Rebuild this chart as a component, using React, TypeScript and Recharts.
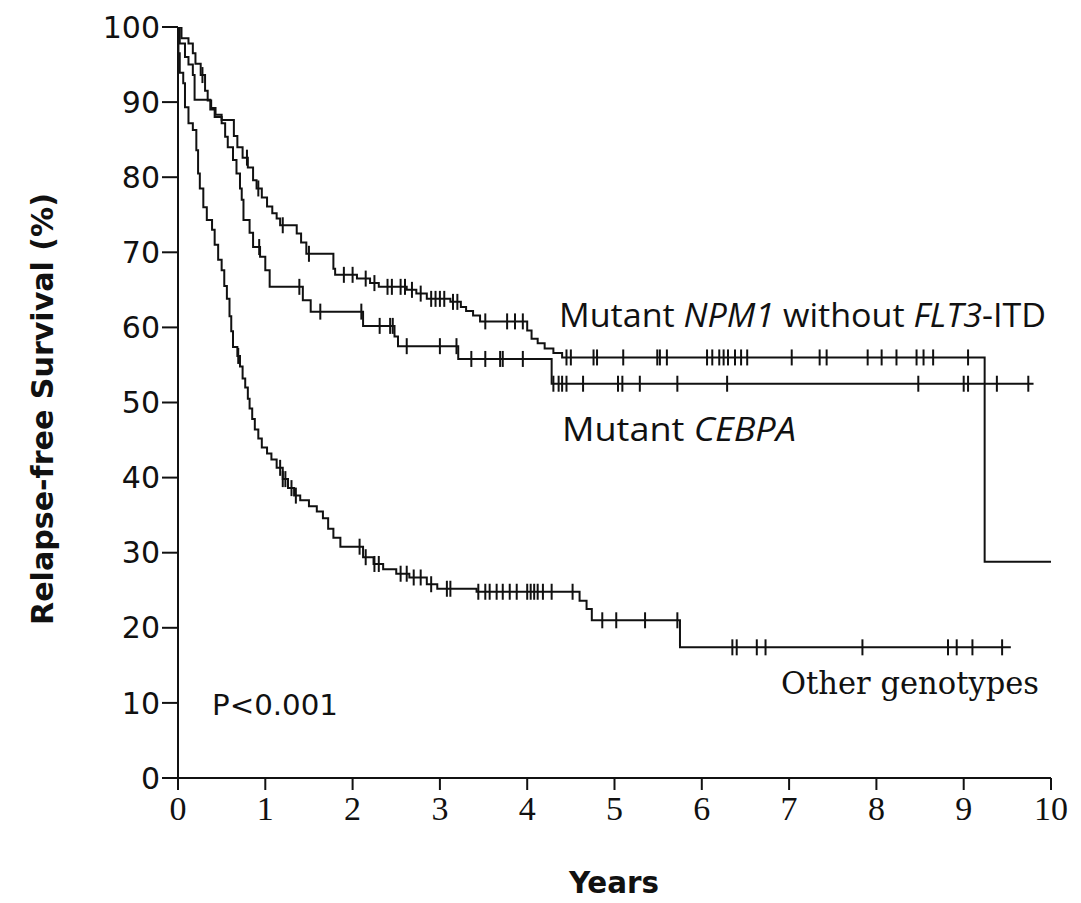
import React from 'react';
import { ComposedChart, Line, Scatter, XAxis, YAxis, Label, Customized } from 'recharts';

// axis ticks
const yearTicks = [0, 1, 2, 3, 4, 5, 6, 7, 8, 9, 10];
const pctTicks = [0, 10, 20, 30, 40, 50, 60, 70, 80, 90, 100];

// Mutant NPM1 without FLT3-ITD: step times (years) and survival (%)
const npmTimes = [0, 0.04, 0.12, 0.17, 0.2, 0.26, 0.31, 0.34, 0.38, 0.43, 0.5, 0.64, 0.68, 0.74, 0.8, 0.86, 0.9, 0.96, 1.02, 1.08, 1.13, 1.17, 1.36, 1.41, 1.47, 1.78, 1.8, 2.05, 2.2, 2.3, 2.62, 2.73, 2.85, 3.12, 3.24, 3.3, 3.38, 3.46, 4.0, 4.05, 4.12, 4.2, 4.3, 4.4, 9.24, 10.0];
const npmSurv = [100, 98.5, 97.8, 96.5, 95.1, 93.6, 91.5, 90.2, 89.2, 88.3, 87.6, 85.5, 84.0, 82.6, 81.3, 79.6, 78.5, 77.3, 76.1, 75.2, 74.5, 73.6, 72.5, 71.3, 69.8, 67.8, 67.0, 66.5, 65.9, 65.4, 65.0, 64.5, 63.8, 63.4, 62.7, 62.2, 61.6, 60.8, 59.6, 58.5, 57.9, 57.2, 56.6, 56.0, 28.8, 28.8];
const npmCensored = [0.28, 0.79, 0.92, 1.2, 1.5, 1.9, 2.0, 2.15, 2.25, 2.4, 2.45, 2.55, 2.6, 2.68, 2.78, 2.9, 2.95, 3.0, 3.05, 3.15, 3.2, 3.52, 3.77, 3.86, 3.95, 4.45, 4.5, 4.76, 4.8, 5.1, 5.49, 5.52, 5.6, 6.06, 6.12, 6.2, 6.25, 6.3, 6.38, 6.45, 6.52, 7.03, 7.35, 7.43, 7.9, 8.06, 8.23, 8.46, 8.54, 8.65, 9.05];

// Mutant CEBPA
const cebTimes = [0, 0.02, 0.08, 0.12, 0.17, 0.19, 0.37, 0.42, 0.5, 0.54, 0.57, 0.63, 0.67, 0.71, 0.73, 0.75, 0.82, 0.86, 0.94, 1.0, 1.05, 1.43, 1.52, 2.12, 2.48, 2.52, 3.21, 4.28, 9.8];
const cebSurv = [100, 97.8, 96.0, 95.0, 93.6, 90.3, 89.0, 88.0, 87.2, 85.4, 84.0, 82.3, 80.5, 78.5, 77.0, 74.3, 72.6, 70.7, 69.4, 67.6, 65.4, 63.6, 62.1, 60.2, 58.8, 57.5, 55.8, 52.5, 52.5];
const cebCensored = [0.93, 1.39, 1.63, 2.1, 2.31, 2.43, 2.46, 2.62, 3.0, 3.19, 3.36, 3.52, 3.69, 3.72, 3.95, 4.3, 4.36, 4.4, 4.45, 4.64, 5.04, 5.09, 5.29, 5.72, 6.29, 8.48, 9.0, 9.05, 9.38, 9.74];

// Other genotypes
const othTimes = [0, 0.005, 0.02, 0.06, 0.08, 0.12, 0.17, 0.21, 0.23, 0.25, 0.29, 0.33, 0.39, 0.42, 0.46, 0.5, 0.53, 0.56, 0.59, 0.61, 0.63, 0.68, 0.71, 0.74, 0.77, 0.8, 0.82, 0.85, 0.88, 0.92, 0.96, 1.02, 1.07, 1.13, 1.2, 1.26, 1.33, 1.4, 1.5, 1.59, 1.66, 1.72, 1.78, 1.86, 2.12, 2.24, 2.35, 2.5, 2.65, 2.85, 2.97, 3.42, 4.6, 4.68, 4.74, 5.75, 9.54];
const othSurv = [100, 96.5, 93.9, 92.5, 89.3, 87.2, 86.3, 83.6, 80.5, 78.5, 76.0, 74.3, 73.0, 71.0, 69.0, 67.6, 65.5, 63.8, 61.5, 59.5, 57.4, 56.2, 54.8, 53.2, 52.0, 50.5, 49.2, 47.8, 46.4, 45.2, 44.0, 43.2, 42.4, 41.3, 39.8, 38.6, 37.6, 37.0, 36.2, 35.5, 34.6, 33.2, 32.0, 30.8, 29.4, 28.5, 27.8, 27.2, 26.7, 25.8, 25.2, 24.8, 23.6, 22.5, 21.0, 17.4, 17.4];
const othCensored = [0.69, 1.17, 1.2, 1.23, 1.3, 1.35, 2.08, 2.15, 2.25, 2.3, 2.55, 2.62, 2.7, 2.78, 2.9, 3.08, 3.12, 3.44, 3.52, 3.57, 3.65, 3.72, 3.8, 3.88, 4.0, 4.04, 4.08, 4.12, 4.18, 4.28, 4.52, 4.86, 5.02, 5.35, 5.72, 6.35, 6.4, 6.63, 6.73, 7.84, 8.82, 8.92, 9.1, 9.44];

const ink = '#111';

function steps(times: number[], surv: number[]) {
  return times.map((t, i) => ({ t, s: surv[i] }));
}

// a censored patient sits on the curve at the last step before it
function marks(times: number[], surv: number[], cens: number[]) {
  return cens.map(c => {
    let i = 0;
    while (i + 1 < times.length && times[i + 1] <= c) i++;
    return { t: c, s: surv[i] };
  });
}

const CensorTick = (p: any) => (
  <line x1={p.cx} x2={p.cx} y1={p.cy - 8} y2={p.cy + 8} stroke={ink} strokeWidth={2} />
);

const Annotations = () => (
  <g fill={ink}>
    <text x={559} y={327} fontSize={32} fontFamily="'Open Sans', 'Noto Sans', sans-serif" textLength={487} lengthAdjust="spacingAndGlyphs">
      Mutant <tspan fontStyle="italic">NPM1</tspan> without <tspan fontStyle="italic">FLT3</tspan>-ITD
    </text>
    <text x={562} y={441} fontSize={32} fontFamily="'Open Sans', 'Noto Sans', sans-serif" textLength={234} lengthAdjust="spacingAndGlyphs">
      Mutant <tspan fontStyle="italic">CEBPA</tspan>
    </text>
    <text x={781} y={694} fontSize={31} fontFamily="'DejaVu Serif', 'Liberation Serif', serif" textLength={258} lengthAdjust="spacingAndGlyphs">
      Other genotypes
    </text>
    <text x={212} y={715} fontSize={29} fontFamily="'DejaVu Sans', sans-serif" textLength={126} lengthAdjust="spacingAndGlyphs">
      P&lt;0.001
    </text>
  </g>
);

export default function App() {
  const npmLine = steps(npmTimes, npmSurv);
  const cebLine = steps(cebTimes, cebSurv);
  const othLine = steps(othTimes, othSurv);
  const npmMarks = marks(npmTimes, npmSurv, npmCensored);
  const cebMarks = marks(cebTimes, cebSurv, cebCensored);
  const othMarks = marks(othTimes, othSurv, othCensored);

  return (
    <div style={{ position: 'absolute', left: 0, top: 0, width: 1080, height: 900, background: '#fff' }}>
      <ComposedChart width={1080} height={900} margin={{ top: 27, right: 29, bottom: 62, left: 98 }}>
        <XAxis
          type="number"
          dataKey="t"
          domain={[0, 10]}
          ticks={yearTicks}
          allowDataOverflow
          tickSize={12}
          tickMargin={6}
          axisLine={{ stroke: ink, strokeWidth: 2 }}
          tickLine={{ stroke: ink, strokeWidth: 2 }}
          tick={{ fill: ink, fontSize: 34, fontFamily: "'Liberation Serif', serif" }}
          height={60}
        >
          <Label
            content={() => (
              <text x={614} y={893} textAnchor="middle" fontSize={30} fontWeight={700} fill={ink}
                fontFamily="'DejaVu Sans Condensed', 'Liberation Sans Narrow', 'Roboto', sans-serif" textLength={90} lengthAdjust="spacingAndGlyphs">
                Years
              </text>
            )}
          />
        </XAxis>
        <YAxis
          type="number"
          domain={[0, 100]}
          ticks={pctTicks}
          allowDataOverflow
          tickSize={16}
          tickMargin={2}
          axisLine={{ stroke: ink, strokeWidth: 2 }}
          tickLine={{ stroke: ink, strokeWidth: 2 }}
          tick={{ fill: ink, fontSize: 30, fontFamily: "'DejaVu Sans', sans-serif" }}
          width={80}
        >
          <Label
            content={() => (
              <text x={0} y={0} transform="translate(53 409) rotate(-90)" textAnchor="middle" fontSize={30} fontWeight={700} fill={ink}
                fontFamily="'DejaVu Sans Condensed', 'Liberation Sans Narrow', 'Roboto', sans-serif" textLength={432} lengthAdjust="spacingAndGlyphs">
                Relapse-free Survival (%)
              </text>
            )}
          />
        </YAxis>
        <Line data={npmLine} dataKey="s" type="stepAfter" stroke={ink} strokeWidth={2} dot={false} isAnimationActive={false} />
        <Line data={cebLine} dataKey="s" type="stepAfter" stroke={ink} strokeWidth={2} dot={false} isAnimationActive={false} />
        <Line data={othLine} dataKey="s" type="stepAfter" stroke={ink} strokeWidth={2} dot={false} isAnimationActive={false} />
        <Scatter data={npmMarks} dataKey="s" shape={CensorTick} isAnimationActive={false} />
        <Scatter data={cebMarks} dataKey="s" shape={CensorTick} isAnimationActive={false} />
        <Scatter data={othMarks} dataKey="s" shape={CensorTick} isAnimationActive={false} />
        <Customized component={Annotations} />
      </ComposedChart>
    </div>
  );
}
